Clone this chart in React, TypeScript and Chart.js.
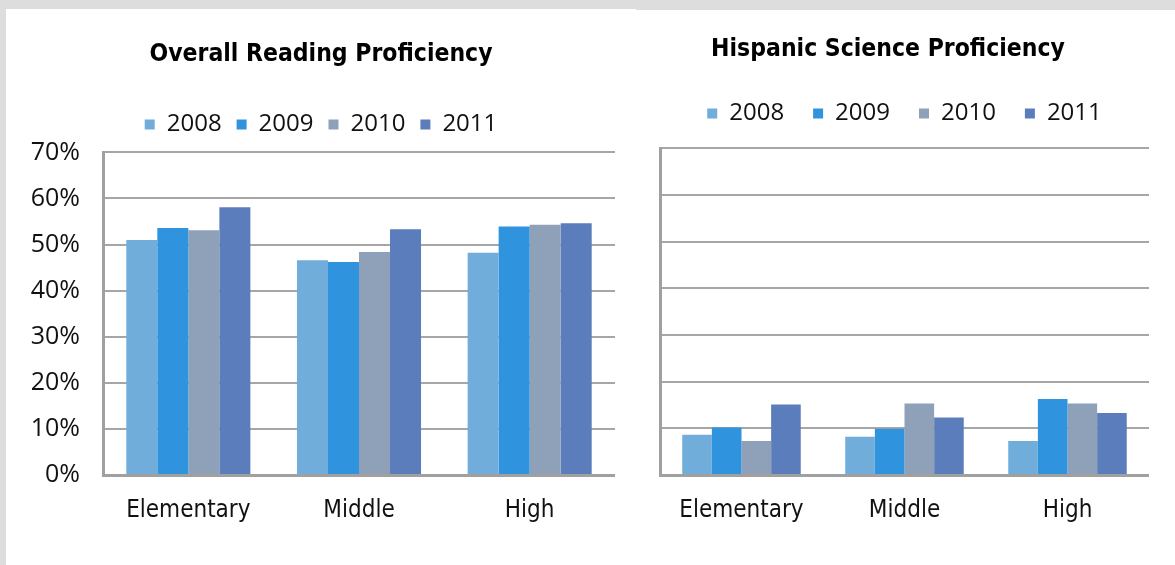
import React, { useEffect, useRef } from "react";
import { Chart, registerables } from "chart.js";

Chart.register(...registerables);

// Categories and series
const schoolLevels = ["Elementary", "Middle", "High"];
const years = ["2008", "2009", "2010", "2011"];
const yearColors = ["#70addb", "#2f93de", "#8fa0b9", "#5c7dbb"];

// Overall reading proficiency (%), one array per year: Elementary, Middle, High
const reading2008 = [51.0, 46.6, 48.2];
const reading2009 = [53.6, 46.2, 53.9];
const reading2010 = [53.1, 48.4, 54.3];
const reading2011 = [58.1, 53.3, 54.6];

// Hispanic science proficiency (%)
const science2008 = [8.6, 8.2, 7.3];
const science2009 = [10.2, 9.9, 16.3];
const science2010 = [7.3, 15.3, 15.3];
const science2011 = [15.1, 12.3, 13.3];

// Value axis
const axisMin = 0;
const axisMax = 70;
const axisStep = 10;

const condensedFont = '"Liberation Sans Narrow", "DejaVu Sans Condensed", "Roboto Condensed", sans-serif';
const bodyFont = '"Open Sans", "Noto Sans", sans-serif';
const gridGray = "#a6a6a6";

type PanelProps = {
  title: string;
  series: number[][];
  left: number;
  top: number;
  width: number;
  height: number;
  padLeft: number;
  showYLabels: boolean;
  yAxisWidth: number;
  titlePadTop: number;
  titlePadBottom: number;
  legendPad: number;
  legendFullSize: boolean;
  spacer: number;
};

function ProficiencyChart(p: PanelProps) {
  const ref = useRef<HTMLCanvasElement | null>(null);

  useEffect(() => {
    if (!ref.current) return;
    const chart = new Chart(ref.current, {
      type: "bar",
      data: {
        labels: schoolLevels,
        datasets: years.map((y, i) => ({
          label: y,
          data: p.series[i],
          backgroundColor: yearColors[i],
          borderWidth: 0,
          barPercentage: 1,
          categoryPercentage: 0.727,
        })),
      },
      options: {
        responsive: false,
        animation: false,
        layout: { padding: { left: p.padLeft, right: 0, top: 0, bottom: 0 } },
        plugins: {
          title: {
            display: true,
            text: p.title,
            color: "#000",
            font: { family: condensedFont, size: 24.5, weight: "bold", lineHeight: 1.2 },
            padding: { top: p.titlePadTop, bottom: p.titlePadBottom },
          },
          // thin spacer between the legend and the plot
          subtitle: {
            display: true,
            text: "",
            weight: 500,
            font: { size: 1, lineHeight: 1 },
            padding: { top: p.spacer, bottom: 0 },
          },
          legend: {
            display: true,
            position: "top",
            fullSize: p.legendFullSize,
            labels: {
              boxWidth: 10,
              boxHeight: 10,
              padding: p.legendPad,
              color: "#111",
              font: { family: bodyFont, size: 24 },
            },
          },
          tooltip: { enabled: false },
        },
        scales: {
          x: {
            grid: { display: false, drawTicks: false },
            border: { display: true, color: "#a0a0a0", width: 3 },
            ticks: {
              color: "#111",
              padding: 21,
              font: { family: condensedFont, size: 24 },
            },
            afterFit: (scale: any) => {
              scale.height = 90;
            },
          },
          y: {
            min: axisMin,
            max: axisMax,
            grid: { color: gridGray, lineWidth: 2, drawTicks: false },
            border: { display: true, color: "#a0a0a0", width: 3 },
            ticks: {
              display: p.showYLabels,
              stepSize: axisStep,
              padding: 23,
              color: "#111",
              font: { family: bodyFont, size: 25 },
              callback: (v: any) => `${v}%`,
            },
            afterFit: (scale: any) => {
              scale.width = p.yAxisWidth;
            },
          },
        },
      },
    } as any);
    return () => chart.destroy();
  }, []);

  return (
    <canvas
      ref={ref}
      width={p.width}
      height={p.height}
      style={{ position: "absolute", left: p.left, top: p.top, width: p.width, height: p.height }}
    />
  );
}

export default function App() {
  return (
    <div
      style={{
        position: "fixed",
        left: 0,
        top: 0,
        width: 1175,
        height: 565,
        background: "#dddddd",
        overflow: "hidden",
      }}
    >
      <div style={{ position: "absolute", left: 6, top: 9, width: 630, height: 556, background: "#fff" }} />
      <div style={{ position: "absolute", left: 636, top: 10, width: 539, height: 555, background: "#fff" }} />
      <ProficiencyChart
        title="Overall Reading Proficiency"
        series={[reading2008, reading2009, reading2010, reading2011]}
        left={25}
        top={9}
        width={590}
        height={556}
        padLeft={2}
        showYLabels={true}
        yAxisWidth={76}
        titlePadTop={31}
        titlePadBottom={28}
        legendPad={15}
        legendFullSize={true}
        spacer={5}
      />
      <ProficiencyChart
        title="Hispanic Science Proficiency"
        series={[science2008, science2009, science2010, science2011]}
        left={627}
        top={10}
        width={522}
        height={555}
        padLeft={0}
        showYLabels={false}
        yAxisWidth={33}
        titlePadTop={25}
        titlePadBottom={8}
        legendPad={29}
        legendFullSize={false}
        spacer={12}
      />
    </div>
  );
}
